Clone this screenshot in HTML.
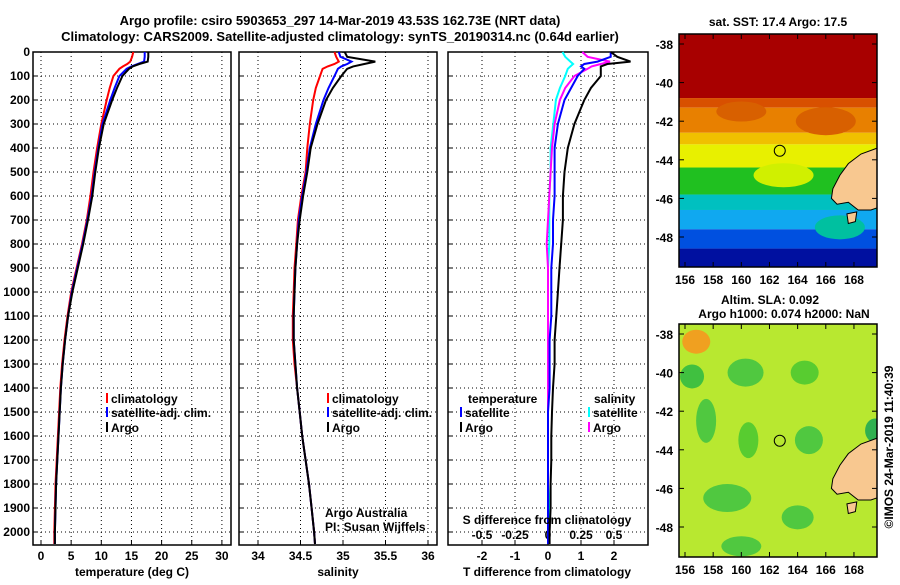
<!DOCTYPE html>
<html><head><meta charset="utf-8"><style>
body{margin:0;background:#fff;}
svg{font-family:"Liberation Sans",sans-serif;}
.t{font-weight:bold;font-size:13px;}
.k{font-weight:bold;font-size:12px;}
</style></head><body>
<svg id="c" width="900" height="580" xmlns="http://www.w3.org/2000/svg">
<text class="t" x="340" y="25" text-anchor="middle" font-size="14">Argo profile: csiro 5903653_297 14-Mar-2019 43.53S 162.73E (NRT data)</text>
<text class="t" x="340" y="41" text-anchor="middle" font-size="14">Climatology: CARS2009. Satellite-adjusted climatology: synTS_20190314.nc (0.64d earlier)</text>
<g id="g"></g>
</svg>
<script>
// ---- data ----
const depths=[0,20,40,50,60,70,100,150,200,300,400,500,600,700,800,900,1000,1100,1200,1300,1400,1500,1600,1700,1800,1900,2000,2050];
const tempArgo=[17.8,17.8,17.7,16.3,15.2,14.6,13.5,12.6,11.8,10.4,9.6,9.0,8.5,7.8,7.0,6.1,5.2,4.5,4.0,3.6,3.3,3.1,2.9,2.7,2.5,2.4,2.3,2.3];
const tempSat=[17.2,17.2,17.1,16.0,15.0,14.2,13.0,12.2,11.5,10.2,9.5,8.9,8.4,7.7,6.9,6.0,5.1,4.5,4.0,3.6,3.3,3.1,2.9,2.7,2.5,2.4,2.3,2.3];
const tempClim=[15.3,15.1,14.8,14.3,13.6,13.0,12.0,11.4,10.9,10.0,9.3,8.7,8.2,7.6,6.8,5.9,5.0,4.4,3.9,3.5,3.2,3.0,2.8,2.6,2.4,2.3,2.2,2.2];
const salArgo=[35.02,35.05,35.38,35.25,35.12,35.05,34.98,34.88,34.80,34.70,34.62,34.58,34.53,34.49,34.46,34.44,34.43,34.42,34.42,34.44,34.46,34.49,34.52,34.56,34.60,34.63,34.66,34.67];
const salSat=[34.95,34.97,35.10,35.05,34.98,34.94,34.90,34.83,34.77,34.68,34.61,34.57,34.52,34.48,34.46,34.44,34.43,34.42,34.42,34.44,34.46,34.49,34.52,34.56,34.60,34.63,34.66,34.67];
const salClim=[34.90,34.92,34.95,34.90,34.82,34.76,34.73,34.68,34.65,34.61,34.58,34.56,34.51,34.47,34.45,34.43,34.42,34.41,34.41,34.43,34.46,34.49,34.52,34.56,34.60,34.63,34.66,34.67];
const dTArgo=[1.9,2.1,2.5,1.8,1.6,1.6,1.6,1.3,1.1,0.8,0.6,0.5,0.45,0.45,0.4,0.35,0.3,0.25,0.2,0.2,0.15,0.12,0.1,0.1,0.08,0.08,0.05,0.05];
const dTSat=[1.9,1.9,1.5,1.1,1.0,1.1,0.9,0.7,0.5,0.3,0.2,0.2,0.2,0.15,0.15,0.1,0.1,0.1,0.05,0.05,0.05,0.0,0.0,0.0,0.0,0.0,0.0,0.0];
const dSSat=[0.11,0.13,0.17,0.19,0.17,0.15,0.13,0.09,0.06,0.04,0.02,0.02,0.01,0.01,0.01,0.0,0.0,0.0,0.0,0.0,0.0,0.0,0.0,0.0,0.0,0.01,0.01,0.01];
const dSArgo=[0.26,0.3,0.47,0.4,0.33,0.3,0.2,0.13,0.09,0.05,0.03,0.02,0.01,0.0,-0.01,0.0,0.0,0.0,0.0,0.0,0.0,0.0,0.0,0.0,0.0,0.0,0.0,0.0];
const depthTicks=[0,100,200,300,400,500,600,700,800,900,1000,1100,1200,1300,1400,1500,1600,1700,1800,1900,2000];
const tTicks=[0,5,10,15,20,25,30];
const sTicks=[34,34.5,35,35.5,36];
const dTTicks=[-2,-1,0,1,2];
const dSTicks=["-0.5","-0.25","0","0.25","0.5"];
const latTicks=[-38,-40,-42,-44,-46,-48];
const lonTicks=[156,158,160,162,164,166,168];

const NS="http://www.w3.org/2000/svg";
const g=document.getElementById('g');
function mk(t,a,p){const e=document.createElementNS(NS,t);for(const k in a)e.setAttribute(k,a[k]);(p||g).appendChild(e);return e;}
function txt(s,x,y,cls,anchor,p){const e=mk('text',{x:x,y:y,class:cls||'k','text-anchor':anchor||'middle'},p);e.textContent=s;return e;}
const TOP=52,BOT=545;
const Y=d=>TOP+d*0.24;

function panel(name,x0,x1,X,ticks,labels,nm){
  const grp=mk('g',{});
  
  
  ticks.forEach((v,i)=>{const x=X(v);
    const l=mk('line',{x1:x,x2:x,y1:TOP,y2:BOT,stroke:'#000','stroke-dasharray':'1 3','stroke-width':1},grp);
    
    mk('line',{x1:x,x2:x,y1:BOT,y2:BOT-5,stroke:'#000'},grp);
    if(labels){const t=txt(labels[i],x,560,'k','middle',grp);}
  });
  depthTicks.forEach(d=>{const y=Y(d);
    const l=mk('line',{x1:x0,x2:x1,y1:y,y2:y,stroke:'#000','stroke-dasharray':'1 3','stroke-width':1},grp);
    
    mk('line',{x1:x0,x2:x0+5,y1:y,y2:y,stroke:'#000'},grp);
  });
  const r=mk('rect',{x:x0,y:TOP,width:x1-x0,height:BOT-TOP,fill:'none',stroke:'#000','stroke-width':1.5},grp);
  
  return grp;
}
function series(grp,vals,X,color,w,name){
  const pts=vals.map((v,i)=>X(v).toFixed(1)+','+Y(depths[i]).toFixed(1)).join(' ');
  const p=mk('polyline',{points:pts,fill:'none',stroke:color,'stroke-width':w},grp);
  
  
}
function legend(x,y,color,label,grp){
  mk('line',{x1:x,x2:x,y1:y-10,y2:y,stroke:color,'stroke-width':2},grp);
  const t=txt(label,x+4,y,'k','start',grp);
  
  
}
// depth labels
depthTicks.forEach(d=>{const t=txt(String(d),30,Y(d)+4,'k','end');});

// panel 1 temperature
const XT=v=>41+v*6.03;
const p1=panel('temperature-panel',33,231,XT,tTicks,tTicks.map(String),'temperature');
series(p1,tempClim,XT,'#f00',2,'temp-climatology-line');
series(p1,tempSat,XT,'#00f',2,'temp-satellite-line');
series(p1,tempArgo,XT,'#000',2,'temp-argo-line');
legend(107,403,'#f00','climatology',p1);legend(107,417,'#00f','satellite-adj. clim.',p1);legend(107,432,'#000','Argo',p1);
txt('temperature (deg C)',132,576,'k','middle');

// panel 2 salinity
const XS=v=>258+(v-34)*85;
const p2=panel('salinity-panel',239,437,XS,sTicks,sTicks.map(String),'salinity');
series(p2,salClim,XS,'#f00',2,'sal-climatology-line');
series(p2,salSat,XS,'#00f',2,'sal-satellite-line');
series(p2,salArgo,XS,'#000',2,'sal-argo-line');
legend(328,403,'#f00','climatology',p2);legend(328,417,'#00f','satellite-adj. clim.',p2);legend(328,432,'#000','Argo',p2);
const a1=txt('Argo Australia',325,517,'','start');a1.setAttribute('font-size','12');
const a2=txt('PI: Susan Wijffels',325,531,'','start');a2.setAttribute('font-size','12');
txt('salinity',338,576,'k','middle');

// panel 3 differences
const XD=v=>548+v*33;
const XDS=v=>548+v*132;
const p3=panel('difference-panel',448,648,XD,dTTicks,dTTicks.map(String),'difference');
dSTicks.forEach(s=>{const t=txt(s,XDS(parseFloat(s)),539,'k','middle',p3);});
series(p3,dSSat,XDS,'#0ff',2,'s-diff-satellite-line');
series(p3,dSArgo,XDS,'#f0f',2,'s-diff-argo-line');
series(p3,dTSat,XD,'#00f',2,'t-diff-satellite-line');
series(p3,dTArgo,XD,'#000',2,'t-diff-argo-line');
txt('temperature',468,403,'k','start',p3);
legend(461,417,'#00f','satellite',p3);legend(461,432,'#000','Argo',p3);
txt('salinity',594,403,'k','start',p3);
legend(589,417,'#0ff','satellite',p3);legend(589,432,'#f0f','Argo',p3);
txt('S difference from climatology',547,524,'k','middle',p3);
txt('T difference from climatology',547,576,'k','middle');

// maps
function map(name,y0,latY0,bands,blobs){
  const grp=mk('g',{});
  
  
  const LX=l=>685+(l-156)*14.08, LY=l=>latY0+(-38-l)*19.3;
  const clipId=name+'-clip';
  const cp=mk('clipPath',{id:clipId},grp);mk('rect',{x:679,y:y0,width:198,height:233},cp);
  const inner=mk('g',{'clip-path':'url(#'+clipId+')'},grp);
  bands.forEach(b=>mk('rect',{x:679,y:LY(b[0]),width:198,height:LY(b[1])-LY(b[0]),fill:b[2]},inner));
  blobs.forEach(b=>mk('ellipse',{cx:LX(b[0]),cy:LY(b[1]),rx:b[2],ry:b[3],fill:b[4]},inner));
  const coast=[[170,-43.3],[168.5,-43.7],[167.6,-44.2],[167.0,-44.8],[166.5,-45.5],[166.4,-46.0],[166.8,-46.3],[167.6,-46.2],[168.3,-46.6],[169.2,-46.6],[170,-46.4]];
  const c=mk('polygon',{points:coast.map(p=>LX(p[0])+','+LY(p[1])).join(' '),fill:'#f8c890',stroke:'#000','stroke-width':1},inner);
  
  mk('polygon',{points:[[167.5,-46.8],[168.2,-46.7],[168.1,-47.2],[167.6,-47.3]].map(p=>LX(p[0])+','+LY(p[1])).join(' '),fill:'#f8c890',stroke:'#000'},inner);
  const ci=mk('circle',{cx:LX(162.73),cy:LY(-43.53),r:5.5,fill:'none',stroke:'#000','stroke-width':1},grp);
  
  mk('rect',{x:679,y:y0,width:198,height:233,fill:'none',stroke:'#000','stroke-width':1.5},grp);
  latTicks.forEach(l=>{const y=LY(l);mk('line',{x1:679,x2:684,y1:y,y2:y,stroke:'#000'},grp);mk('line',{x1:872,x2:877,y1:y,y2:y,stroke:'#000'},grp);
    const t=txt(String(l),673,y+5,'k','end',grp);t.setAttribute('font-size','13');});
  lonTicks.forEach(l=>{const x=LX(l);mk('line',{x1:x,x2:x,y1:y0+233,y2:y0+228,stroke:'#000'},grp);mk('line',{x1:x,x2:x,y1:y0,y2:y0+5,stroke:'#000'},grp);
    const t=txt(String(l),x,y0+250,'k','middle',grp);t.setAttribute('font-size','13');});
}
map('sst-map',34,44,[[-36,-40.8,'#a80000'],[-40.8,-41.3,'#d85000'],[-41.3,-42.6,'#e88000'],[-42.6,-43.2,'#f0c000'],[-43.2,-44.4,'#e8f000'],[-44.4,-45.8,'#20c020'],[-45.8,-46.6,'#00c0c0'],[-46.6,-47.6,'#10a8f0'],[-47.6,-48.6,'#0050e0'],[-48.6,-50,'#0010a0']],
  [[160,-41.5,25,10,'#d86000'],[166,-42,30,14,'#d86000'],[163,-44.8,30,12,'#d0f000'],[167,-47.5,25,12,'#00c0a0']]);
map('sla-map',324,334,[[-36,-50,'#b8e830']],
  [[156.8,-38.4,14,12,'#f0a020'],[156.5,-40.2,12,12,'#40c040'],[160.3,-40,18,14,'#50c840'],[157.5,-42.5,10,22,'#50c840'],[164.5,-40,14,12,'#58cc30'],[160.5,-43.5,10,18,'#58cc30'],[164.8,-43.5,14,14,'#50c840'],[159,-46.5,24,14,'#50c840'],[164,-47.5,16,12,'#50c840'],[160,-49,20,10,'#50c840'],[169.5,-43,10,12,'#30b050']]);
txt('sat. SST: 17.4 Argo: 17.5',778,26,'k','middle');
txt('Altim. SLA: 0.092',770,304,'k','middle');
txt('Argo h1000: 0.074 h2000: NaN',784,318,'k','middle');
const v=txt('©IMOS 24-Mar-2019 11:40:39',0,0,'','middle');v.setAttribute('font-size','13');
v.setAttribute('transform','translate(893,447) rotate(-90)');


</script>
</body></html>
